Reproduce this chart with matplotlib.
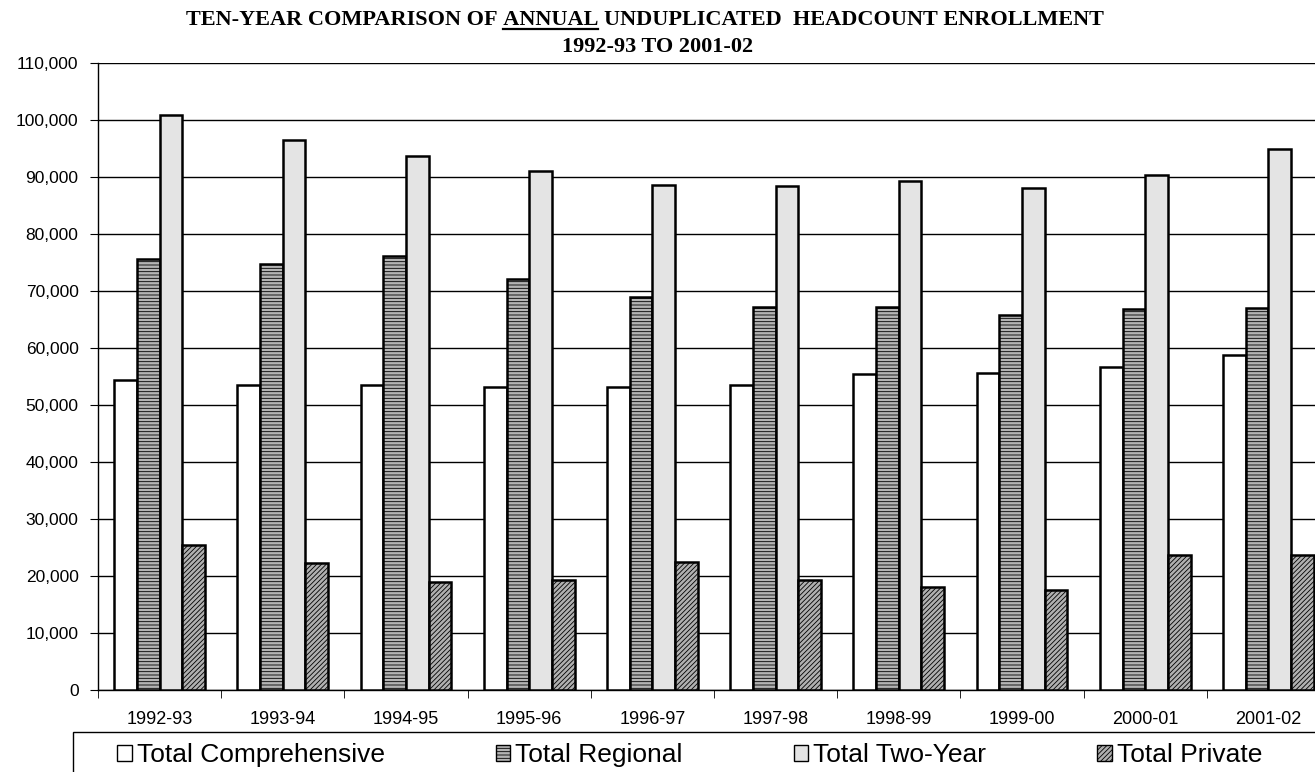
import numpy as np
import matplotlib
matplotlib.use("Agg")
from matplotlib import pyplot as plt
from matplotlib.patches import Rectangle

years = ["1992-93", "1993-94", "1994-95", "1995-96", "1996-97",
         "1997-98", "1998-99", "1999-00", "2000-01", "2001-02"]
comprehensive = [54400, 53500, 53500, 53200, 53100, 53500, 55400, 55600, 56700, 58700]
regional = [75600, 74800, 76100, 72100, 69000, 67200, 67200, 65800, 66800, 67000]
two_year = [100900, 96500, 93600, 91100, 88600, 88500, 89300, 88100, 90400, 95000]
private = [25400, 22300, 19000, 19300, 22400, 19300, 18000, 17500, 23600, 23700]
series_names = ["Total Comprehensive", "Total Regional", "Total Two-Year", "Total Private"]

plt.rcParams['font.family'] = ['Liberation Sans', 'DejaVu Sans']
plt.rcParams['hatch.linewidth'] = 0.6

W, H = 1315, 772
fig = plt.figure(figsize=(W / 100, H / 100), dpi=100)
# right edge of the plot runs past the picture, like the original
ax = fig.add_axes([98 / W, 1 - 690 / H, 1232 / W, 627 / H])

x = np.arange(len(years))
w = 0.184
styles = [
    dict(facecolor="white", hatch=None),
    dict(facecolor="#b4b4b4", hatch="-----"),
    dict(facecolor="#e4e4e4", hatch=None),
    dict(facecolor="#b0b0b0", hatch="///////"),
]
data = [comprehensive, regional, two_year, private]
for i, (vals, st) in enumerate(zip(data, styles)):
    ax.bar(x + (i - 1.5) * w, vals, width=w, facecolor=st["facecolor"],
           hatch=st["hatch"], edgecolor="black", linewidth=1.8,
           label=series_names[i], zorder=3)

ax.set_xlim(-0.5, len(years) - 0.5)
ax.set_ylim(0, 110000)
ax.set_yticks(np.arange(0, 110001, 10000))
ax.set_yticklabels([f"{v:,}" for v in range(0, 110001, 10000)], fontsize=12.5)
ax.set_xticks(x)
ax.set_xticklabels(years, fontsize=13)
ax.set_xticks(np.arange(len(years) + 1) - 0.5, minor=True)
ax.tick_params(axis="x", which="major", length=0, pad=15)
ax.tick_params(axis="x", which="minor", length=6, direction="out", color="black")
ax.tick_params(axis="y", length=6, direction="out", pad=8)
ax.grid(axis="y", color="black", linewidth=1.0, zorder=0)
ax.set_axisbelow(True)
for s in ["top", "right"]:
    ax.spines[s].set_visible(False)
ax.spines["left"].set_linewidth(1.0)
ax.spines["bottom"].set_linewidth(1.0)

# title, with ANNUAL underlined
pre = "TEN-YEAR COMPARISON OF "
word = "ANNUAL"
post = " UNDUPLICATED  HEADCOUNT ENROLLMENT"
tkw = dict(family="Liberation Serif", fontweight="bold", fontsize=16)
renderer = fig.canvas.get_renderer()
parts = []
for s in [pre, word, post]:
    t = fig.text(0, 0, s.replace(" ", "\u00a0"), **tkw)
    parts.append(t.get_window_extent(renderer).width)
    t.remove()
total = sum(parts)
x0 = 645 - total / 2
ybase = H - 25
fig.text(x0 / W, ybase / H, (pre + word + post).replace(" ", "\u00a0"),
         ha="left", va="baseline", **tkw)
ux0 = x0 + parts[0]
ux1 = ux0 + parts[1]
fig.add_artist(plt.Line2D([ux0 / W, ux1 / W], [(ybase - 3.5) / H] * 2,
                          color="black", linewidth=1.6))
fig.text(658 / W, (H - 52) / H, "1992-93 TO 2001-02", ha="center",
         va="baseline", **tkw)

# legend box runs off the bottom and right edges
fig.add_artist(Rectangle((73 / W, -0.05), 1.0, (H - 732) / H + 0.05,
                         transform=fig.transFigure, facecolor="none",
                         edgecolor="black", linewidth=1.0))
handles, labels = ax.get_legend_handles_labels()
leg = fig.legend(handles, labels, loc="center left",
                 bbox_to_anchor=(117 / W, 1 - 755 / H), ncol=4, fontsize=19,
                 frameon=False, handlelength=0.55, handleheight=0.55,
                 handletextpad=0.2, columnspacing=4.2, borderpad=0,
                 borderaxespad=0)
for h in leg.legend_handles:
    h.set_linewidth(1.0)

fig.savefig("out.png", dpi=100)
